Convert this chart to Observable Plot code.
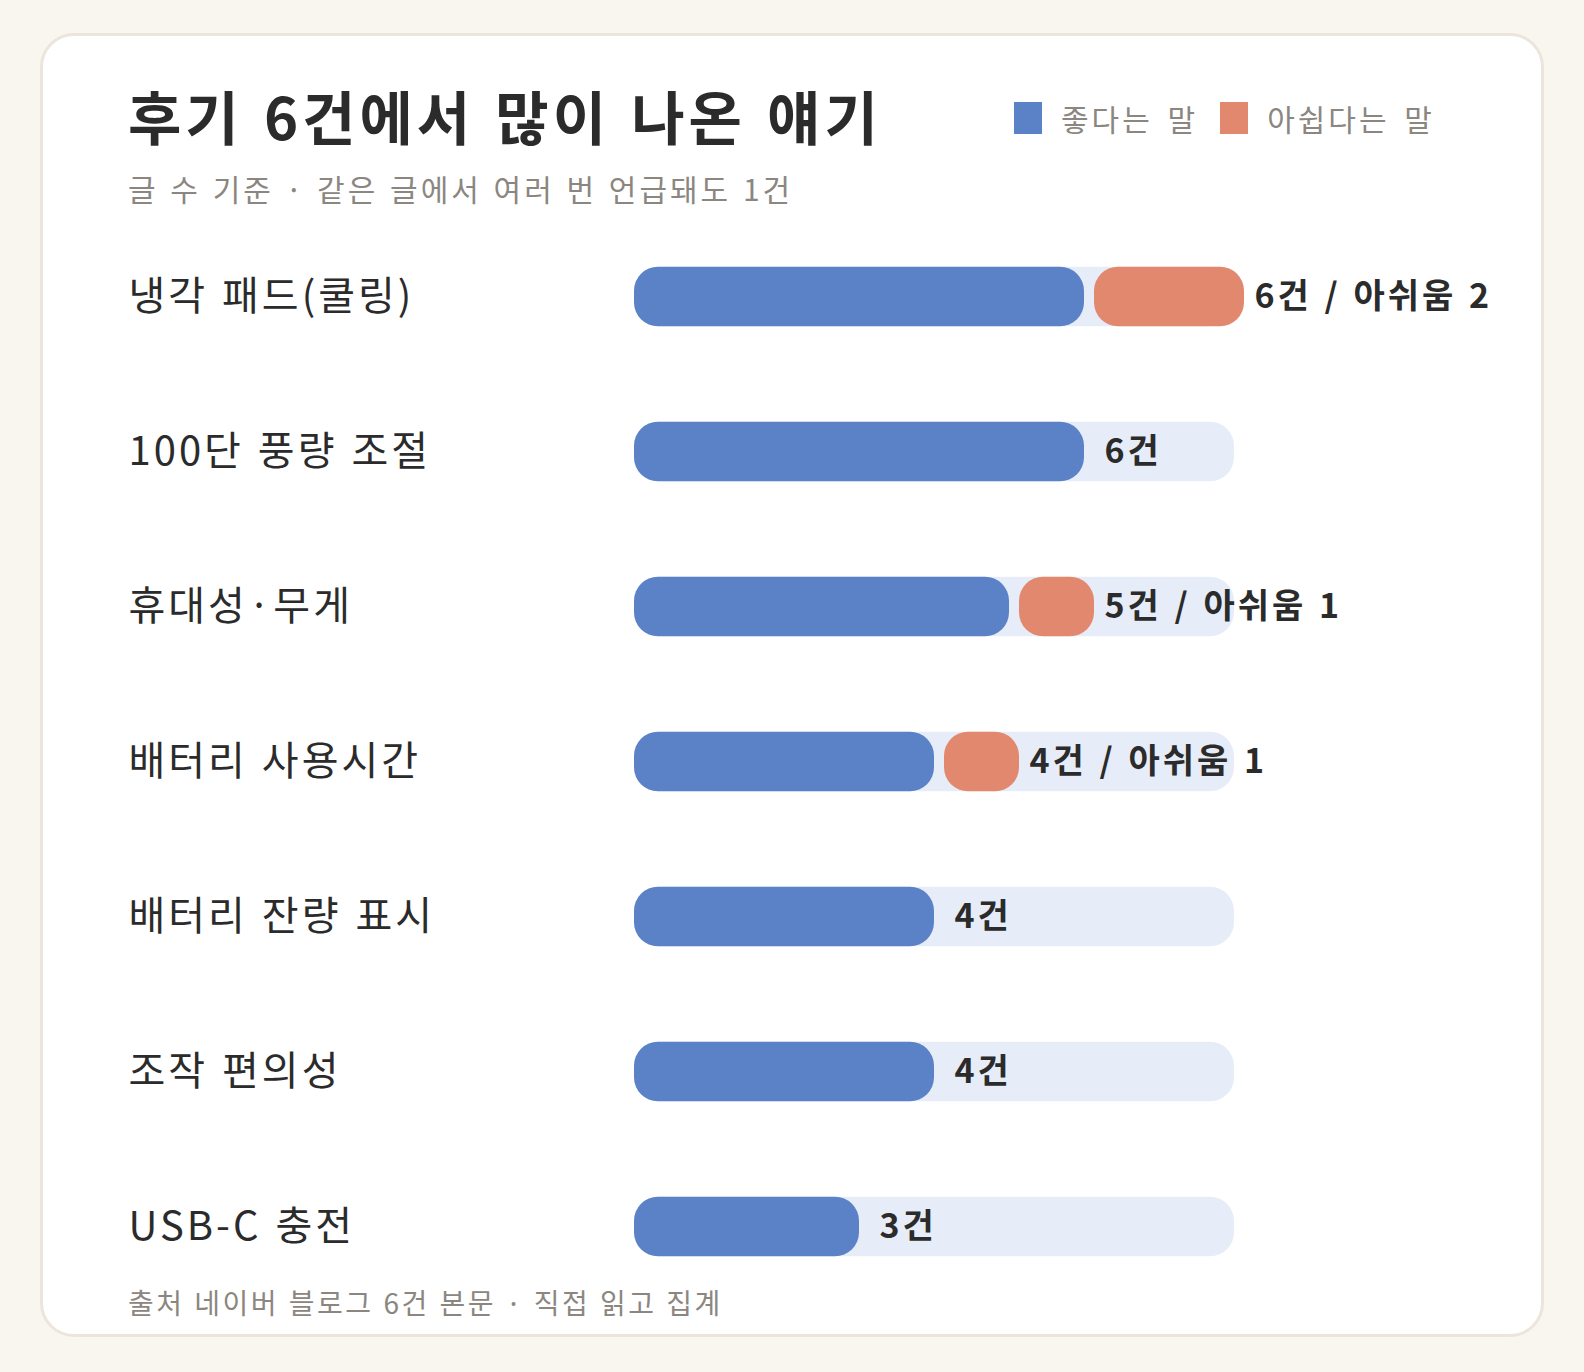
<!DOCTYPE html>
<html><head><meta charset="utf-8">
<script src="https://cdn.jsdelivr.net/npm/d3@7"></script>
<script src="https://cdn.jsdelivr.net/npm/@observablehq/plot@0.6"></script>
<style>
html,body{margin:0;padding:0;background:#f9f6f0;width:1584px;height:1372px;overflow:hidden;font-family:"Noto Sans CJK KR","Noto Sans",sans-serif;}
#card{position:absolute;left:40px;top:33px;width:1498px;height:1298px;border:3px solid #ece5db;border-radius:34px;background:#fff;}
.abs{position:absolute;white-space:nowrap;}
#title{left:128px;top:80px;font-size:58px;font-weight:700;color:#2b2b2b;line-height:70px;letter-spacing:4px;word-spacing:4px;}
#subtitle{left:128px;top:168px;font-size:30px;color:#8b8680;line-height:40px;letter-spacing:3px;word-spacing:2px;}
#caption{left:128px;top:1283px;font-size:28px;color:#8b8680;line-height:38px;letter-spacing:2.5px;word-spacing:1px;}
#legend{left:1014px;top:98px;font-size:30px;color:#8b8680;line-height:40px;display:flex;align-items:center;letter-spacing:3px;word-spacing:5px;}
#legend .sw{display:inline-block;width:28px;height:32px;margin-right:19px;}
#legend .item{display:flex;align-items:center;margin-right:22px;}
#chart{position:absolute;left:0;top:217px;}
</style></head>
<body>
<div id="card"></div>
<div class="abs" id="title">후기 6건에서 많이 나온 얘기</div>
<div class="abs" id="subtitle">글 수 기준 · 같은 글에서 여러 번 언급돼도 1건</div>
<div class="abs" id="legend"></div>
<div id="chart"></div>
<div class="abs" id="caption">출처 네이버 블로그 6건 본문 · 직접 읽고 집계</div>
<script>
const categories = ["냉각 패드(쿨링)", "100단 풍량 조절", "휴대성·무게", "배터리 사용시간", "배터리 잔량 표시", "조작 편의성", "USB-C 충전"];
const positive = [6, 6, 5, 4, 4, 4, 3];
const negative = [2, 0, 1, 1, 0, 0, 0];
const seriesNames = ["좋다는 말", "아쉽다는 말"];
const seriesColors = ["#5b82c6", "#e2886e"];
const trackColor = "#e6edf8";

const rows = categories.map((c, i) => ({
  category: c, pos: positive[i], neg: negative[i], total: positive[i] + negative[i],
  label: `${positive[i]}건` + (negative[i] ? ` / 아쉬움 ${negative[i]}` : "")
}));
const maxTotal = d3.max(rows, d => d.total);

const legend = document.getElementById("legend");
seriesNames.forEach((n, i) => {
  const it = document.createElement("span"); it.className = "item";
  const sw = document.createElement("span"); sw.className = "sw"; sw.style.background = seriesColors[i];
  it.appendChild(sw); it.appendChild(document.createTextNode(n)); legend.appendChild(it);
});

const inset = 47.75;
const chart = Plot.plot({
  width: 1584, height: 1089,
  marginLeft: 634, marginRight: 350, marginTop: 0, marginBottom: 0,
  x: {domain: [0, maxTotal], axis: null},
  y: {domain: categories, padding: 0, label: null},
  style: {fontFamily: '"Noto Sans CJK KR", "Noto Sans", sans-serif', background: "transparent", overflow: "visible", letterSpacing: "3px", wordSpacing: "2px"},
  marks: [
    Plot.barX(rows, {y: "category", x1: 0, x2: maxTotal, fill: trackColor, rx: 24, insetTop: inset, insetBottom: inset}),
    Plot.barX(rows, {y: "category", x1: 0, x2: "pos", fill: seriesColors[0], rx: 24, insetTop: inset, insetBottom: inset}),
    Plot.barX(rows.filter(d => d.neg > 0), {y: "category", x1: "pos", x2: "total", dx: 10, fill: seriesColors[1], rx: 24, insetTop: inset, insetBottom: inset}),
    Plot.text(rows, {y: "category", x: "total", text: "label", dx: 20, textAnchor: "start", fontSize: 34, fontWeight: 700, fill: "#2b2b2b"}),
    Plot.axisY({tickSize: 0, tickPadding: 0, textAnchor: "start", dx: -506, fontSize: 40, fill: "#2b2b2b", label: null})
  ]
});
document.getElementById("chart").appendChild(chart);
</script>
</body></html>
